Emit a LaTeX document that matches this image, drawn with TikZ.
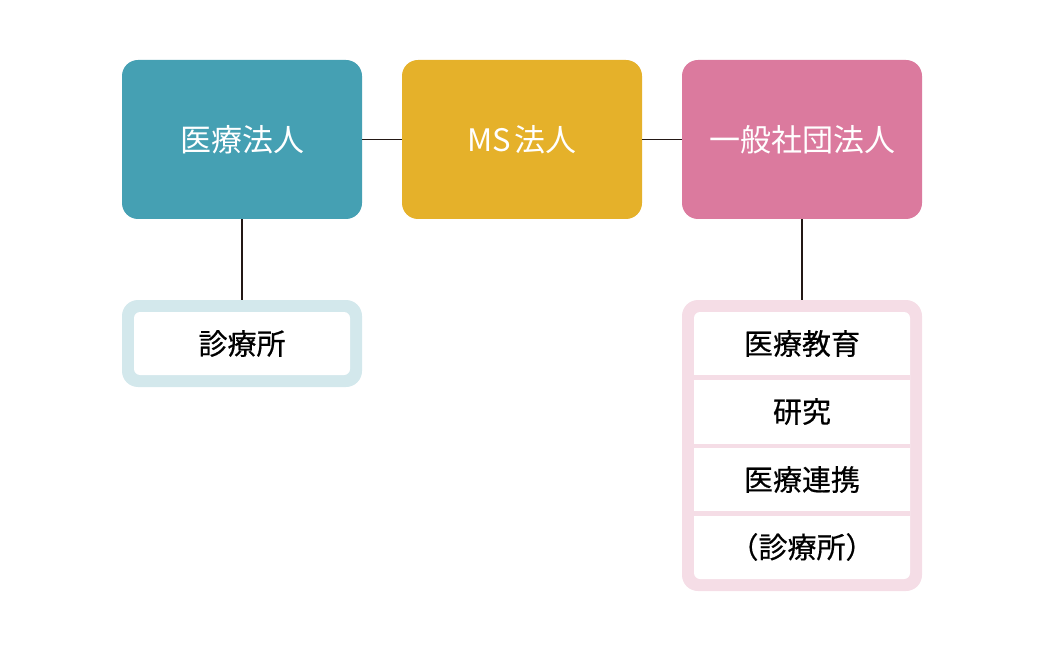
\documentclass[tikz,border=0pt]{standalone}
\usepackage{fontspec}
\newfontfamily\jp{Noto Sans CJK JP}
\newfontfamily\jpm{Noto Sans CJK JP}[FakeBold=0.5]
\definecolor{teal1}{HTML}{45A0B3}
\definecolor{gold1}{HTML}{E5B12A}
\definecolor{pink1}{HTML}{DB7A9E}
\definecolor{lblue}{HTML}{D3E8EC}
\definecolor{lpink}{HTML}{F5DDE6}
\definecolor{linec}{HTML}{231815}
\tikzset{
  topbox/.style={rounded corners=16pt, minimum width=240pt, minimum height=159pt, inner sep=0pt, text=white, font=\jp\fontsize{31}{31}\selectfont},
  frame/.style={rounded corners=16pt, minimum width=240pt, inner sep=0pt},
  cell/.style={minimum width=216pt, inner sep=0pt, text=black, font=\jpm\fontsize{29}{29}\selectfont},
  sep/.style={fill=lpink},
  conn/.style={draw=linec, line width=1.5pt}
}
\begin{document}
\begin{tikzpicture}[x=1pt,y=-1pt]
\useasboundingbox (0,0) rectangle (1046,652);
% top boxes
\node[topbox, fill=teal1] (med) at (242,139.5) {医療法人};
\node[topbox, fill=gold1] (ms) at (522,139.5) {MS\hspace{4pt}法人};
\node[topbox, fill=pink1] (gen) at (802,139.5) {一般社団法人};
% left lower box
\node[frame, fill=lblue, minimum height=87pt] (lframe) at (242,343.5) {};
\node[cell, fill=white, rounded corners=6pt, minimum height=63pt] (clinic) at (242,343.5) {診療所};
% right lower box
\node[frame, fill=lpink, minimum height=291pt] (rframe) at (802,445.5) {};
\fill[white, rounded corners=6pt] (694,312) rectangle (910,579);
\fill[sep] (694,375) rectangle (910,379.5);
\fill[sep] (694,443.5) rectangle (910,448);
\fill[sep] (694,511) rectangle (910,515.5);
\node[cell, minimum height=63pt] (edu) at (802,343.5) {医療教育};
\node[cell, minimum height=64pt] (res) at (802,411.5) {研究};
\node[cell, minimum height=63pt] (coop) at (802,479.5) {医療連携};
\node[cell, minimum height=64pt] (clin2) at (802,547) {（診療所）};
% connectors
\draw[conn] (med.east) -- (ms.west);
\draw[conn] (ms.east) -- (gen.west);
\draw[conn] (med.south) -- (lframe.north);
\draw[conn] (gen.south) -- (rframe.north);
\end{tikzpicture}
\end{document}
